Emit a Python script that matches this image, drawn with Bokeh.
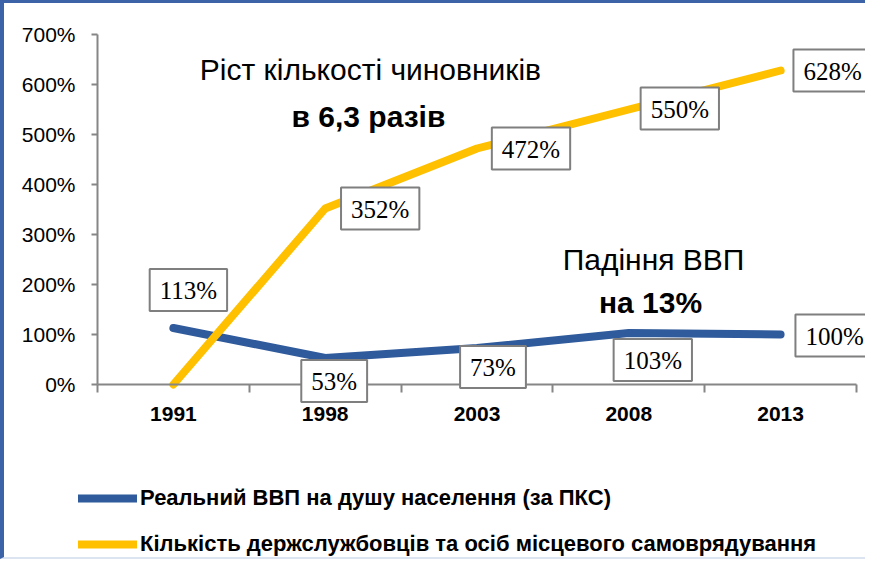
from bokeh.plotting import figure
from bokeh.models import (ColumnDataSource, FixedTicker, PrintfTickFormatter, Label,
                          Legend, LegendItem, Range1d)
from bokeh.embed import file_html
from bokeh.resources import INLINE
from bokeh.core.properties import value
import numpy as np

# ---- data ----
years = ["1991", "1998", "2003", "2008", "2013"]
gdp = [113, 53, 73, 103, 100]
officials = [0, 352, 472, 550, 628]
y_ticks = [0, 100, 200, 300, 400, 500, 600, 700]
gdp_name = "Реальний ВВП на душу населення (за ПКС)"
off_name = "Кількість держслужбовців та осіб місцевого самоврядування"
note1 = ["Ріст кількості чиновників", "в 6,3 разів"]
note2 = ["Падіння ВВП", "на 13%"]

# label placement (screen px offsets from the point)
gdp_dx = [15, 9, 16, 24, 54]
gdp_dy = [-38, 23, 19, 27, 1]
off_idx = [1, 2, 3, 4]
off_dx = [55, 54, 51, 52]
off_dy = [0, 0, -1, 0]

BLUE = "#2F5A9B"
YELLOW = "#FFC000"
GRAY = "#868686"
SANS = "Liberation Sans"
SERIF = "Liberation Serif"

x = np.arange(len(years)) + 0.5

p = figure(width=865, height=559, x_range=Range1d(-0.6126, 5.0856), y_range=Range1d(-356, 762),
           output_backend="svg", toolbar_location=None, min_border=0)
p.styles = {"border-left": "4px solid #3C62A8", "border-top": "3px solid #3C62A8",
            "border-bottom": "2px solid #DCE4F2"}
p.outline_line_color = None
p.grid.visible = False
p.background_fill_color = "white"
p.border_fill_color = "white"

r_gdp = p.line(x, gdp, line_width=8, line_color=BLUE, line_cap="round", line_join="round")
r_off = p.line(x, officials, line_width=8, line_color=YELLOW, line_cap="round", line_join="round")

lab_x = list(x) + [x[i] for i in off_idx]
lab_y = gdp + [officials[i] for i in off_idx]
lab_t = [f"{v}%" for v in lab_y]
src = ColumnDataSource(dict(x=lab_x, y=lab_y, text=lab_t,
                            dx=gdp_dx + off_dx, dy=gdp_dy + off_dy))
p.text(x="x", y="y", text="text", x_offset="dx", y_offset="dy", source=src,
       text_font=value(SERIF), text_font_size="25px", text_color="black",
       text_align="center", text_baseline="middle",
       background_fill_color="white", border_line_color="#7F7F7F", border_line_width=2,
       padding=dict(left=10, right=10, top=8, bottom=7), level="overlay")

# axes
xa = p.xaxis[0]
xa.fixed_location = 0
xa.bounds = (0, len(years))
xa.ticker = FixedTicker(ticks=list(x), minor_ticks=list(range(len(years) + 1)))
xa.major_label_overrides = {float(xi): yr for xi, yr in zip(x, years)}
xa.major_tick_line_color = None
xa.major_tick_out = 8
xa.major_tick_in = 0
xa.minor_tick_line_color = GRAY
xa.minor_tick_line_width = 2
xa.minor_tick_out = 8
xa.minor_tick_in = 0
xa.axis_line_color = GRAY
xa.axis_line_width = 2
xa.major_label_text_font = SANS
xa.major_label_text_font_style = "bold"
xa.major_label_text_font_size = "21px"
xa.major_label_text_color = "black"
xa.major_label_standoff = 14

ya = p.yaxis[0]
ya.fixed_location = 0
ya.bounds = (0, 700)
ya.ticker = FixedTicker(ticks=y_ticks)
ya.formatter = PrintfTickFormatter(format="%d%%")
ya.major_tick_out = 6
ya.major_tick_in = 0
ya.major_tick_line_color = GRAY
ya.major_tick_line_width = 2
ya.minor_tick_line_color = None
ya.axis_line_color = GRAY
ya.axis_line_width = 2
ya.major_label_text_font = SANS
ya.major_label_text_font_size = "21px"
ya.major_label_text_color = "black"
ya.major_label_standoff = 16

# annotations
for txt, xx, yy, st in [(note1[0], 1.798, 630, "normal"), (note1[1], 1.785, 536, "bold"),
                        (note2[0], 3.663, 250, "normal"), (note2[1], 3.643, 164, "bold")]:
    p.add_layout(Label(x=xx, y=yy, text=txt, text_font=SANS, text_font_size="30px",
                       text_font_style=st, text_align="center", text_baseline="alphabetic",
                       text_color="black"))

legend = Legend(items=[LegendItem(label=gdp_name, renderers=[r_gdp]),
                       LegendItem(label=off_name, renderers=[r_off])],
                location=(74, 5), orientation="vertical",
                glyph_width=59, glyph_height=26, label_height=26, spacing=20,
                label_standoff=3, padding=0, margin=0,
                border_line_color=None, background_fill_alpha=0,
                label_text_font=SANS, label_text_font_style="bold",
                label_text_font_size="22px", label_text_color="black",
                label_text_baseline="middle")
p.add_layout(legend)

open("out.html", "w").write(file_html(p, INLINE))
